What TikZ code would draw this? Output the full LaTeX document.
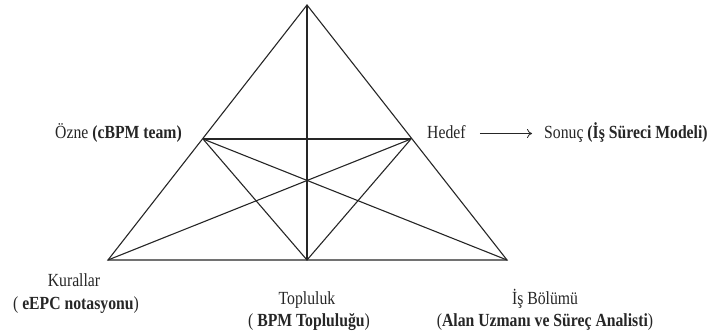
\documentclass[tikz,border=0pt]{standalone}
\usepackage{fontspec}
\setmainfont[FakeStretch=0.85]{Liberation Serif}
\usetikzlibrary{arrows.meta}
\begin{document}
\begin{tikzpicture}[x=1pt,y=-1pt,
  edge/.style={line width=1.1pt, black!85},
  lbl/.style={inner sep=0pt, font=\fontsize{18.5}{20}\selectfont, text=black!85}]
\useasboundingbox (0,0) rectangle (711,336);
\coordinate (A) at (307,5);
\coordinate (BL) at (108,260);
\coordinate (BR) at (507,260);
\coordinate (BM) at (307,260);
\coordinate (ML) at (203,139);
\coordinate (MR) at (411,139);
\draw[edge, line join=miter] (A) -- (BL) -- (BR) -- cycle;
\draw[edge] (A) -- (BM);
\draw[edge] (ML) -- (MR);
\draw[edge] (ML) -- (BM) -- (MR);
\draw[edge] (ML) -- (BR);
\draw[edge] (MR) -- (BL);
\node[lbl, anchor=base east] (ozne) at (182,139) {Özne \textbf{(cBPM team)}};
\node[lbl, anchor=base west] (hedef) at (427,139) {Hedef};
\node[lbl, anchor=base west] (sonuc) at (544,139) {Sonuç \textbf{(İş Süreci Modeli)}};
\draw[-{To[length=5pt,width=9pt]}, line width=0.8pt, black!85] ([xshift=14pt,yshift=5.5pt]hedef.base east) -- ([xshift=-12pt,yshift=5.5pt]sonuc.base west);
\node[lbl, anchor=base] (kur) at (74,287) {Kurallar};
\node[lbl, anchor=base] (kur2) at (76,309) {( \textbf{eEPC notasyonu})};
\node[lbl, anchor=base] (top) at (307,304) {Topluluk};
\node[lbl, anchor=base] (top2) at (309,326.5) {( \textbf{BPM Topluluğu})};
\node[lbl, anchor=base] (is) at (545,304) {İş Bölümü};
\node[lbl, anchor=base] (is2) at (545,326.5) {(\textbf{Alan Uzmanı ve Süreç Analisti})};
\end{tikzpicture}
\end{document}
